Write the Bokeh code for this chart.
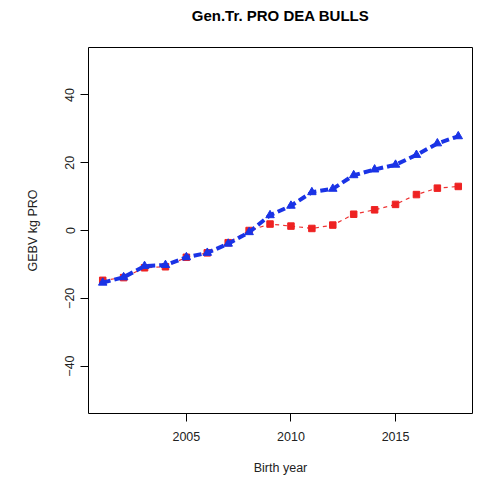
from bokeh.plotting import figure
from bokeh.models import Range1d, FixedTicker, Title
from bokeh.embed import file_html
from bokeh.resources import INLINE

years = list(range(2001, 2019))
blue_vals = [-15.4, -13.8, -10.5, -10.2, -7.9, -6.6, -3.9, -0.5, 4.5, 7.3,
             11.3, 12.3, 16.3, 18.0, 19.4, 22.3, 25.7, 27.8]
red_vals = [-14.7, -13.9, -11.0, -10.7, -7.9, -6.6, -3.6, 0.0, 1.9, 1.3,
            0.6, 1.6, 4.8, 6.1, 7.7, 10.6, 12.5, 13.0]
x_ticks = [2005, 2010, 2015]
y_ticks = [-40, -20, 0, 20, 40]
title_text = "Gen.Tr. PRO DEA BULLS"

FONT = "Liberation Sans"

p = figure(width=476, height=470, output_backend="svg", toolbar_location=None,
           x_range=Range1d(2000.32, 2018.68), y_range=Range1d(-54, 54),
           title=None,
           min_border_left=88, min_border_right=4, min_border_top=46, min_border_bottom=58)
p.frame_width = 384
p.frame_height = 366

# spacer between frame and title (nearest to the frame)
spacer = Title(text=" ", text_font_size="1px", standoff=12)
p.add_layout(spacer, "above")
main_title = Title(text=title_text, text_font=FONT, text_font_size="15px",
                   text_font_style="bold", align="center", vertical_align="top",
                   text_color="black", standoff=13)
p.add_layout(main_title, "above")

p.xgrid.visible = False
p.ygrid.visible = False
p.outline_line_color = "black"
p.outline_line_width = 1
p.background_fill_color = "white"
p.border_fill_color = "white"

for ax in (p.xaxis[0], p.yaxis[0]):
    ax.axis_line_color = None
    ax.major_tick_in = 0
    ax.major_tick_out = 8
    ax.minor_tick_line_color = None
    ax.major_tick_line_color = "black"
    ax.major_label_text_font = FONT
    ax.major_label_text_font_size = "12.5px"
    ax.major_label_text_color = "#222222"
    ax.axis_label_text_font = FONT
    ax.axis_label_text_font_size = "12.5px"
    ax.axis_label_text_font_style = "normal"
    ax.axis_label_text_color = "#222222"

p.xaxis[0].ticker = FixedTicker(ticks=x_ticks)
p.yaxis[0].ticker = FixedTicker(ticks=y_ticks)
p.xaxis[0].axis_label = "Birth year"
p.yaxis[0].axis_label = "GEBV kg PRO"
p.yaxis[0].major_label_orientation = "vertical"
p.xaxis[0].major_label_standoff = 10
p.xaxis[0].axis_label_standoff = 17
p.yaxis[0].major_label_standoff = 6
p.yaxis[0].axis_label_standoff = 23

p.line(years, red_vals, line_color="#ee3333", line_width=1.2, line_dash="4 4")
p.scatter(years, red_vals, marker="square", size=6.5, fill_color="#ee2222", line_color="#ee2222")
p.line(years, blue_vals, line_color="#1a33e6", line_width=4, line_dash="8 4")
p.scatter(years, blue_vals, marker="triangle", size=8.5, fill_color="#1a33e6", line_color="#1a33e6")

open("out.html", "w").write(file_html(p, INLINE))
